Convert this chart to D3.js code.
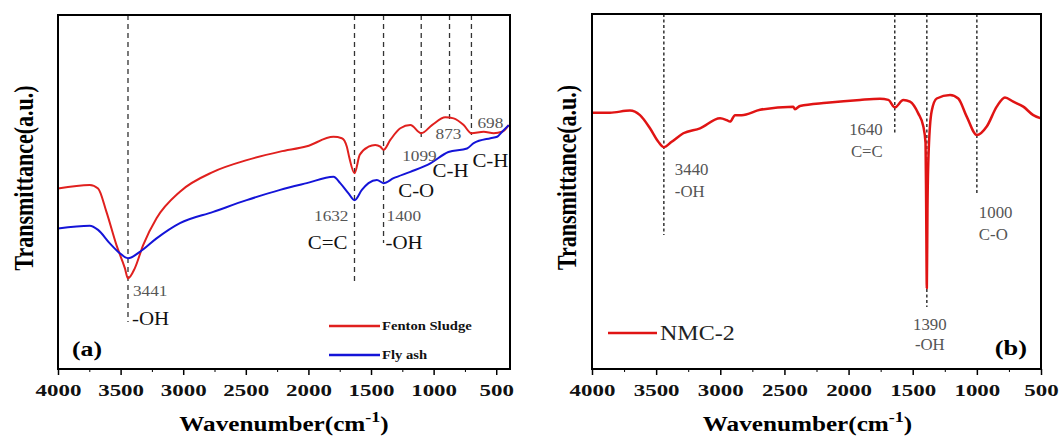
<!DOCTYPE html>
<html>
<head>
<meta charset="utf-8">
<script src="https://cdn.jsdelivr.net/npm/d3@7"></script>
<style>
  body { margin: 0; background: #fff; }
  svg { display: block; }
  text { font-family: "Liberation Serif", "Times New Roman", serif; }
</style>
</head>
<body>
<div class="chart"></div>
<script>
// FTIR spectra, (a) Fenton sludge + fly ash, (b) NMC-2

// tick values (cm-1)
var xTicks = [4000, 3500, 3000, 2500, 2000, 1500, 1000, 500];
var xMinor = [3750, 3250, 2750, 2250, 1750, 1250, 750];

// (a) Fenton Sludge
var sludgeWn = [4000, 3746, 3680, 3613, 3533, 3466, 3441, 3386, 3320, 3213, 3026, 2760, 2493, 2226, 2013,
    1800, 1733, 1693, 1672, 1632, 1590, 1520, 1466, 1426, 1400, 1346, 1266, 1186, 1099, 1013,
    906, 840, 760, 698, 600, 520, 453, 400];
var sludgeT = [51.0, 52.0, 51.0, 44.4, 35.0, 28.5, 25.6, 28.5, 35.0, 42.6, 50.1, 55.7, 59.0, 61.4, 62.9,
    65.6, 65.2, 62.8, 59.5, 55.3, 60.5, 62.8, 63.3, 62.8, 61.9, 64.7, 68.0, 68.9, 66.6, 68.9,
    71.1, 70.8, 68.9, 66.6, 67.0, 66.6, 67.0, 68.9];

// (a) Fly ash
var flyWn = [4000, 3746, 3680, 3586, 3506, 3441, 3346, 3213, 3026, 2760, 2493, 2226, 2013, 1800, 1746,
    1680, 1632, 1573, 1520, 1453, 1400, 1320, 1186, 1026, 882, 733, 680, 546, 493, 453, 400];
var flyT = [39.7, 40.5, 39.3, 35.5, 32.7, 31.3, 33.1, 36.9, 41.2, 44.4, 47.7, 50.6, 52.5, 54.3, 52.5,
    49.6, 47.7, 50.6, 52.5, 53.4, 52.5, 53.9, 55.7, 58.1, 61.3, 62.3, 63.8, 65.2, 65.6, 67.0, 68.9];

// (b) NMC-2
var nmcWn = [4000, 3860, 3704, 3626, 3548, 3483, 3440, 3379, 3288, 3158, 3002, 2950, 2924, 2885, 2833,
    2690, 2431, 2418, 2379, 2170, 1911, 1755, 1690, 1640, 1573, 1521, 1457, 1417, 1400, 1395,
    1390, 1385, 1375, 1352, 1313, 1209, 1145, 1079, 1000, 923, 845, 781, 716, 638, 560, 500];
var nmcT = [72.2, 72.2, 72.8, 71.5, 67.8, 64.0, 62.5, 64.0, 66.4, 67.8, 70.6, 70.1, 69.7, 71.5, 71.5,
    73.0, 73.9, 73.2, 74.1, 75.0, 75.8, 76.1, 75.8, 73.7, 75.8, 75.3, 72.0, 68.3, 63.7, 45.0,
    22.8, 45.0, 62.0, 72.7, 76.2, 77.2, 76.2, 71.1, 65.9, 68.3, 73.9, 76.5, 75.3, 73.9, 71.5, 70.6];

// marked peaks
var peaksA = [3441, 1632, 1400, 1099, 873, 698];
var bondsA = ["-OH", "C=C", "-OH", "C-O", "C-H", "C-H"];
var peaksB = [3440, 1640, 1390, 1000];
var bondsB = ["-OH", "C=C", "-OH", "C-O"];

// label placement (px, inside the frame)
var annoA = [
    {anchor: "start", dxN: 5,   dxB: 4,   yN: 281, yB: 310, yEnd: 307},
    {anchor: "end",   dxN: -6,  dxB: -7,  yN: 206, yB: 234, yEnd: 270},
    {anchor: "start", dxN: 3,   dxB: 2,   yN: 206, yB: 234, yEnd: 228},
    {anchor: "start", dxN: -19, dxB: -23, yN: 146, yB: 182, yEnd: 125},
    {anchor: "start", dxN: -14, dxB: -17, yN: 124, yB: 162, yEnd: 107},
    {anchor: "start", dxN: 6,   dxB: 1,   yN: 113, yB: 152, yEnd: 120}
];
var annoB = [
    {anchor: "start",  dxN: 11,  dxB: 11,  yN: 161, yB: 183, yEnd: 221},
    {anchor: "end",    dxN: -12, dxB: -12, yN: 121, yB: 143, yEnd: 119},
    {anchor: "middle", dxN: 3,   dxB: 3,   yN: 316, yB: 336, yEnd: 293},
    {anchor: "start",  dxN: 2,   dxB: 2,   yN: 204, yB: 226, yEnd: 181}
];

var svg = d3.select(".chart").append("svg")
    .attr("width", 1059)
    .attr("height", 436);

// stretched text helper (the source figure is widened horizontally)
function addText(g, x, y, str, size, k, opts) {
    opts = opts || {};
    return g.append("text")
        .attr("transform", `translate(${x},${y}) scale(${k},1)`)
        .attr("text-anchor", opts.anchor || "start")
        .attr("font-size", size)
        .attr("font-weight", opts.bold ? "bold" : "normal")
        .attr("fill", opts.fill || "#000")
        .text(str);
}

function drawPanel(p) {
    var g = svg.append("g")
        .attr("transform", `translate(${p.left}, ${p.top})`);

    var x = d3.scaleLinear().domain(p.xDomain).range([0, p.width]);
    var y = d3.scaleLinear().domain([0, 100]).range([p.height, 0]);

    // minor ticks
    g.append("g")
        .attr("transform", `translate(0, ${p.height})`)
        .call(d3.axisBottom(x).tickValues(xMinor).tickSize(3).tickFormat(""))
        .call(a => a.select(".domain").remove());

    // major ticks + labels
    var ax = g.append("g")
        .attr("transform", `translate(0, ${p.height})`)
        .call(d3.axisBottom(x).tickValues(xTicks).tickSize(6).tickPadding(9).tickFormat(d3.format("d")));
    ax.select(".domain").remove();
    ax.selectAll("line").attr("stroke", "#000").attr("stroke-width", 1.5);
    ax.selectAll("text")
        .attr("font-family", "Liberation Serif")
        .attr("font-size", 17)
        .attr("font-weight", "bold")
        .attr("fill", "#111")
        .attr("transform", "scale(1.35,1)");

    // dashed peak markers
    p.peaks.forEach(function(pk, i) {
        g.append("line")
            .attr("x1", x(pk)).attr("x2", x(pk))
            .attr("y1", 0).attr("y2", p.anno[i].yEnd)
            .attr("stroke", "#333")
            .attr("stroke-width", p.dashWidth)
            .attr("stroke-dasharray", p.dash);
    });

    // spectra
    var line = d3.line()
        .x(d => x(d[0]))
        .y(d => y(d[1]))
        .curve(d3.curveMonotoneX);

    p.series.forEach(function(s) {
        var pts = s.wn.map((w, i) => [w, s.t[i]]);
        g.append("path")
            .datum(pts)
            .attr("fill", "none")
            .attr("stroke", s.color)
            .attr("stroke-width", s.width)
            .attr("stroke-linejoin", "round")
            .attr("d", line);
    });

    // peak labels
    p.peaks.forEach(function(pk, i) {
        var a = p.anno[i];
        addText(g, x(pk) + a.dxN, a.yN, String(pk), p.numSize, p.numK, {anchor: a.anchor, fill: "#555"});
        addText(g, x(pk) + a.dxB, a.yB, p.bonds[i], p.bondSize, p.bondK, {anchor: a.anchor, fill: p.bondColor});
    });

    // frame
    g.append("rect")
        .attr("width", p.width)
        .attr("height", p.height)
        .attr("fill", "none")
        .attr("stroke", "#000")
        .attr("stroke-width", 2);

    // axis titles
    var xt = addText(g, p.width / 2 + p.xTitleShift, p.height + 62, "Wavenumber(cm", 21, 1.2, {anchor: "middle", bold: true});
    xt.append("tspan").attr("dy", -9).attr("font-size", 15).text("-1");
    xt.append("tspan").attr("dy", 9).text(")");

    g.append("text")
        .attr("transform", `translate(${p.yTitleX}, ${p.height / 2 - 14}) rotate(-90) scale(1,1.25)`)
        .attr("text-anchor", "middle")
        .attr("font-size", 22)
        .attr("font-weight", "bold")
        .text("Transmittance(a.u.)");

    return {g: g, x: x, y: y};
}

// ---- panel (a)
var pa = drawPanel({
    left: 58, top: 15, width: 452, height: 354,
    xDomain: [4000, 390],
    peaks: peaksA, bonds: bondsA, anno: annoA,
    dash: "5,4", dashWidth: 1.3,
    numSize: 15, numK: 1.15, bondSize: 19, bondK: 1.1, bondColor: "#111",
    xTitleShift: 0, yTitleX: -25,
    series: [
        {wn: sludgeWn, t: sludgeT, color: "#e0201e", width: 2},
        {wn: flyWn, t: flyT, color: "#1414d8", width: 2}
    ]
});

// legend (a)
var legA = [["Fenton Sludge", "#e0201e", 311], ["Fly ash", "#1414d8", 340]];
legA.forEach(function(l) {
    pa.g.append("line")
        .attr("x1", 271).attr("x2", 322)
        .attr("y1", l[2]).attr("y2", l[2])
        .attr("stroke", l[1]).attr("stroke-width", 2.5);
    addText(pa.g, 324, l[2] + 4, l[0], 12.5, 1.17, {bold: true, fill: "#111"});
});
addText(pa.g, 14, 341, "(a)", 22, 1.17, {bold: true});

// ---- panel (b)
var pb = drawPanel({
    left: 592, top: 14, width: 449, height: 355,
    xDomain: [4000, 500],
    peaks: peaksB, bonds: bondsB, anno: annoB,
    dash: "3,2.5", dashWidth: 1.5,
    numSize: 16, numK: 1.05, bondSize: 16, bondK: 1.05, bondColor: "#555",
    xTitleShift: -9, yTitleX: -16,
    series: [
        {wn: nmcWn, t: nmcT, color: "#e01414", width: 2.5}
    ]
});

pb.g.append("line")
    .attr("x1", 16).attr("x2", 65)
    .attr("y1", 319).attr("y2", 319)
    .attr("stroke", "#e01414").attr("stroke-width", 2.5);
addText(pb.g, 68, 326, "NMC-2", 20, 1.2, {fill: "#222"});
addText(pb.g, 435, 341, "(b)", 22, 1.2, {bold: true, anchor: "end"});
</script>
</body>
</html>
